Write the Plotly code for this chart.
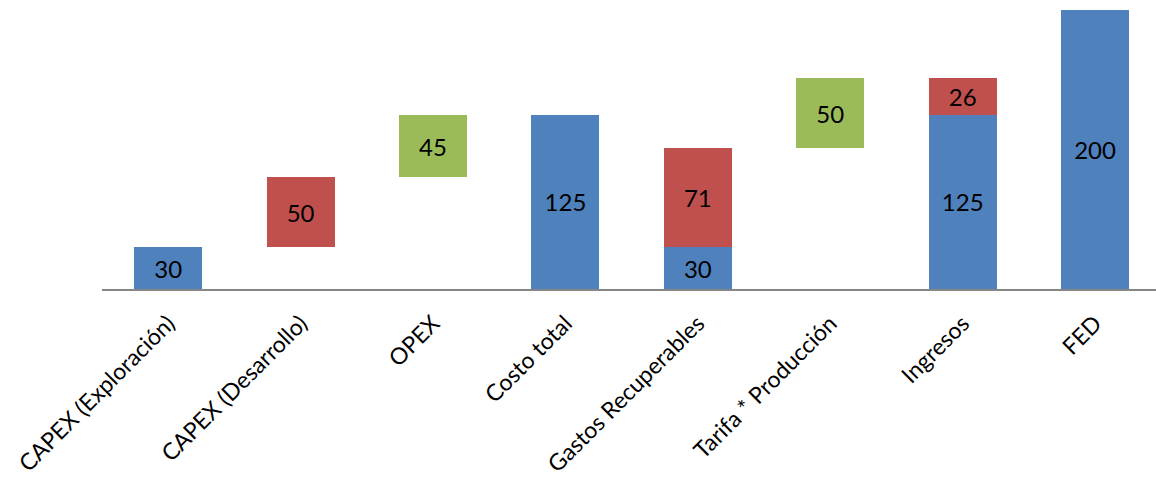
import plotly.graph_objects as go

categories = [
    "CAPEX (Exploración)",
    "CAPEX (Desarrollo)",
    "OPEX",
    "Costo total",
    "Gastos Recuperables",
    "Tarifa * Producción",
    "Ingresos",
    "FED",
]

# invisible offset that lifts the floating steps of the waterfall
base = [0, 30, 80, 0, 0, 101, 0, 0]
blue = [30, None, None, 125, 30, None, 125, 200]
red = [None, 50, None, None, 71, None, 26, None]
green = [None, None, 45, None, None, 50, None, None]

BLUE = "#4F81BD"
RED = "#C0504D"
GREEN = "#9BBB59"
FONT = "Lato"


def labels(vals):
    return [None if v is None else str(v) for v in vals]


fig = go.Figure()
fig.add_trace(go.Bar(x=categories, y=base,
                     marker=dict(color="rgba(0,0,0,0)", line=dict(width=0)),
                     hoverinfo="skip", showlegend=False))
for vals, col in [(blue, BLUE), (red, RED), (green, GREEN)]:
    fig.add_trace(go.Bar(
        x=categories, y=vals, marker=dict(color=col, line=dict(width=0)),
        text=labels(vals), textposition="inside", insidetextanchor="middle",
        textangle=0, constraintext="none",
        textfont=dict(family=FONT, size=24, color="black"),
        hoverinfo="skip", showlegend=False,
    ))

fig.update_layout(
    barmode="stack",
    bargap=0.486,
    width=1156, height=487,
    margin=dict(l=102, r=0, t=10, b=198),
    paper_bgcolor="white", plot_bgcolor="white",
    font=dict(family=FONT, size=23, color="black"),
    xaxis=dict(
        type="category", range=[-0.5, 7.46],
        showline=True, linecolor="#868686", linewidth=2,
        ticks="", tickangle=-45, showgrid=False, ticklabelstandoff=10,
        tickfont=dict(family=FONT, size=23, color="black"),
    ),
    yaxis=dict(range=[0, 200], visible=False, showgrid=False, zeroline=False),
)

fig.write_html("out.html")
